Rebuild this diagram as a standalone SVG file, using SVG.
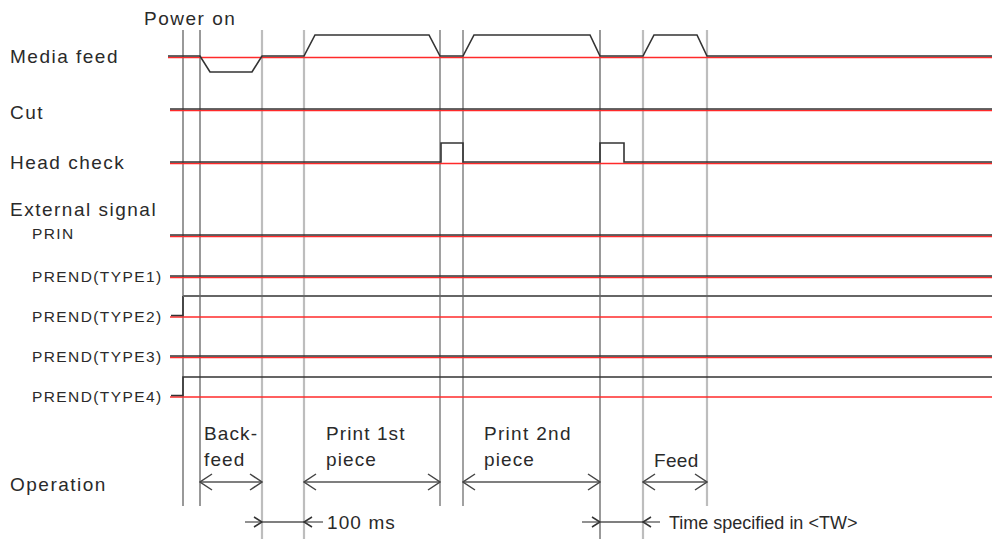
<svg xmlns="http://www.w3.org/2000/svg" width="992" height="539" viewBox="0 0 992 539">
<style>
text{font-family:"Liberation Sans",Arial,sans-serif;fill:#2a2a2a}
.lbl{font-size:19px;letter-spacing:1.5px}
.sm{font-size:15.5px;letter-spacing:1.4px}
.op{font-size:19px;letter-spacing:1.1px}
.red{stroke:#ff2a2a;stroke-width:1.3;fill:none}
.sig{stroke:#333;stroke-width:1.6;fill:none}
.hi{stroke:#666;stroke-width:2;fill:none}
.vd{stroke:#555;stroke-width:1.2}
.vm{stroke:#8a8a8a;stroke-width:1.6}
.vl{stroke:#bdbdbd;stroke-width:2.2}
.arr{stroke:#555;stroke-width:1.3;fill:none}
</style>
<defs>
<marker id="ah" viewBox="0 0 14 18" refX="13" refY="9" markerWidth="14" markerHeight="18" markerUnits="userSpaceOnUse" orient="auto-start-reverse">
<path d="M1,1 L13,9 L1,17" fill="none" stroke="#444" stroke-width="1.5"/>
</marker>
<marker id="sh" viewBox="0 0 10 12" refX="9" refY="6" markerWidth="10" markerHeight="12" markerUnits="userSpaceOnUse" orient="auto">
<path d="M1,1 L9,6 L1,11" fill="none" stroke="#333" stroke-width="1.5"/>
</marker>
</defs>
<rect width="992" height="539" fill="#fff"/>

<g id="gridlines">
<line class="vd" x1="183" y1="30" x2="183" y2="506"/>
<line class="vd" x1="200" y1="30" x2="200" y2="506"/>
<line class="vl" x1="262" y1="30" x2="262" y2="539"/>
<line class="vl" x1="304" y1="30" x2="304" y2="539"/>
<line class="vm" x1="440" y1="30" x2="440" y2="506"/>
<line class="vm" x1="463" y1="30" x2="463" y2="506"/>
<line class="vd" x1="600" y1="30" x2="600" y2="539"/>
<line class="vl" x1="643" y1="30" x2="643" y2="539"/>
<line class="vl" x1="707" y1="30" x2="707" y2="506"/>
</g>

<g id="power-on"><text class="lbl" x="144" y="25">Power on</text></g>

<g id="media-feed">
<text class="lbl" x="10" y="63">Media feed</text>
<line class="red" x1="168" y1="57.5" x2="992" y2="57.5"/>
<path class="sig" d="M168,56 L200,56 L210,72 L252,72 L262,56 L304,56 L315,35 L429,35 L440,56 L463,56 L474,35 L590,35 L600,56 L643,56 L654,35 L697,35 L707,56 L992,56"/>
</g>

<g id="cut">
<text class="lbl" x="10" y="119">Cut</text>
<line class="red" x1="170" y1="110.5" x2="992" y2="110.5"/>
<line class="sig" x1="170" y1="109" x2="992" y2="109"/>
</g>

<g id="head-check">
<text class="lbl" x="10" y="169">Head check</text>
<line class="red" x1="170" y1="163.5" x2="992" y2="163.5"/>
<path class="sig" d="M170,162 L441,162 L441,143 L463,143 L463,162 L600,162 L600,143 L624,143 L624,162 L992,162"/>
</g>

<g id="external-signal"><text class="lbl" x="10" y="216">External signal</text></g>

<g id="prin">
<text class="sm" x="32" y="239">PRIN</text>
<line class="red" x1="170" y1="236.5" x2="992" y2="236.5"/>
<line class="sig" x1="170" y1="235" x2="992" y2="235"/>
</g>

<g id="prend-type1">
<text class="sm" x="32" y="282">PREND(TYPE1)</text>
<line class="red" x1="170" y1="277.5" x2="992" y2="277.5"/>
<line class="sig" x1="170" y1="276" x2="992" y2="276"/>
</g>

<g id="prend-type2">
<text class="sm" x="32" y="322">PREND(TYPE2)</text>
<line class="red" x1="170" y1="317" x2="992" y2="317"/>
<path class="sig" d="M171,315.5 L183,315.5 L183,296"/>
<line class="hi" x1="183" y1="296" x2="992" y2="296"/>
</g>

<g id="prend-type3">
<text class="sm" x="32" y="362">PREND(TYPE3)</text>
<line class="red" x1="170" y1="357.5" x2="992" y2="357.5"/>
<line class="sig" x1="170" y1="356" x2="992" y2="356"/>
</g>

<g id="prend-type4">
<text class="sm" x="32" y="402">PREND(TYPE4)</text>
<line class="red" x1="170" y1="397" x2="992" y2="397"/>
<path class="sig" d="M171,395.5 L183,395.5 L183,377 L992,377"/>
</g>

<g id="operation">
<text class="lbl" x="10" y="491">Operation</text>
<text class="op" x="204" y="440">Back-</text>
<text class="op" x="204" y="466">feed</text>
<text class="op" x="326" y="440">Print 1st</text>
<text class="op" x="326" y="466">piece</text>
<text class="op" x="484" y="440" style="letter-spacing:1.3px">Print 2nd</text>
<text class="op" x="484" y="466">piece</text>
<text class="op" x="654" y="467" style="letter-spacing:0.3px">Feed</text>
<text class="op" x="327" y="529">100 ms</text>
<text x="669" y="529" style="font-size:18px">Time specified in &lt;TW&gt;</text>
</g>

<g id="connectors">
<line class="arr" x1="200" y1="482" x2="262" y2="482" marker-start="url(#ah)" marker-end="url(#ah)"/>
<line class="arr" x1="304" y1="482" x2="440" y2="482" marker-start="url(#ah)" marker-end="url(#ah)"/>
<line class="arr" x1="463" y1="482" x2="600" y2="482" marker-start="url(#ah)" marker-end="url(#ah)"/>
<line class="arr" x1="643" y1="482" x2="707" y2="482" marker-start="url(#ah)" marker-end="url(#ah)"/>
<line class="arr" x1="245" y1="522" x2="262" y2="522" marker-end="url(#sh)"/>
<line class="arr" x1="262" y1="522" x2="304" y2="522"/>
<line class="arr" x1="323" y1="522" x2="304" y2="522" marker-end="url(#sh)"/>
<line class="arr" x1="582" y1="522" x2="600" y2="522" marker-end="url(#sh)"/>
<line class="arr" x1="600" y1="522" x2="643" y2="522"/>
<line class="arr" x1="660" y1="522" x2="643" y2="522" marker-end="url(#sh)"/>
</g>
</svg>
